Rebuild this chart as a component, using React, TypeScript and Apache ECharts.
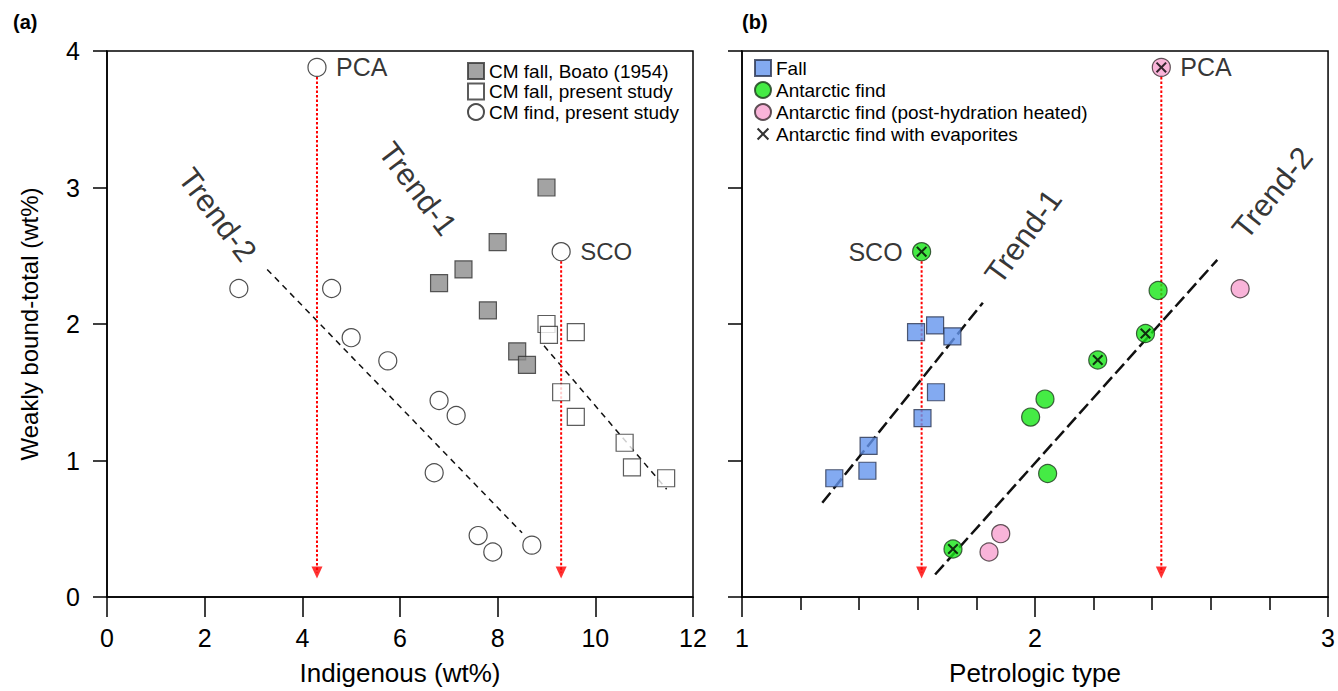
import React, { useEffect, useRef } from 'react';
import * as echarts from 'echarts';

// ---------- Panel (a) data: x = Indigenous (wt%), y = Weakly bound-total (wt%) ----------
const boatoFall = [[9.0, 3.0], [8.0, 2.6], [7.3, 2.4], [6.8, 2.3], [7.8, 2.1], [8.4, 1.8], [8.6, 1.7]];
const presentFall = [[9.0, 2.0], [9.05, 1.92], [9.6, 1.94], [9.3, 1.5], [9.6, 1.32], [10.6, 1.13], [10.75, 0.95], [11.45, 0.87]];
const presentFind = [[4.3, 3.88], [9.3, 2.53], [2.7, 2.26], [4.6, 2.26], [5.0, 1.9], [5.75, 1.73], [6.8, 1.44], [7.15, 1.33], [6.7, 0.91], [7.6, 0.45], [7.9, 0.33], [8.7, 0.38]];
const trendA1 = [[8.95, 1.84], [11.46, 0.79]];
const trendA2 = [[3.28, 2.4], [8.5, 0.47]];
const arrowsA = [[[4.3, 3.81], [4.3, 0.18]], [[9.3, 2.46], [9.3, 0.18]]];
const pointLabelsA = [
  { name: 'PCA', value: [4.3, 3.88], position: 'right', size: 25 },
  { name: 'SCO', value: [9.3, 2.53], position: 'right', size: 24 },
];
const trendLabelsA = [
  { name: 'Trend-1', value: [6.36, 2.99], rotate: -53 },
  { name: 'Trend-2', value: [2.26, 2.8], rotate: -53 },
];

// ---------- Panel (b) data: x = Petrologic type ----------
const fallB = [[1.594, 1.94], [1.659, 1.99], [1.718, 1.91], [1.662, 1.5], [1.616, 1.31], [1.432, 1.107], [1.428, 0.925], [1.315, 0.87]];
const antarcticB = [[1.613, 2.53], [2.42, 2.245], [2.377, 1.93], [2.214, 1.736], [2.034, 1.45], [1.985, 1.318], [2.043, 0.905], [1.72, 0.352]];
const heatedB = [[2.431, 3.88], [2.7, 2.258], [1.883, 0.464], [1.843, 0.33]];
const evaporitesB = [[1.613, 2.53], [2.377, 1.93], [2.214, 1.736], [1.72, 0.352], [2.431, 3.88]];
const trendB1 = [[1.274, 0.69], [1.822, 2.156]];
const trendB2 = [[1.659, 0.165], [2.622, 2.47]];
const arrowsB = [[[1.613, 2.46], [1.613, 0.18]], [[2.431, 3.81], [2.431, 0.18]]];
const pointLabelsB = [
  { name: 'SCO', value: [1.613, 2.53], position: 'left', size: 25 },
  { name: 'PCA', value: [2.431, 3.88], position: 'right', size: 25 },
];
const trendLabelsB = [
  { name: 'Trend-1', value: [1.96, 2.64], rotate: 54 },
  { name: 'Trend-2', value: [2.81, 2.96], rotate: 51 },
];

const legendA = ['CM fall, Boato (1954)', 'CM fall, present study', 'CM find, present study'];
const legendB = ['Fall', 'Antarctic find', 'Antarctic find (post-hydration heated)', 'Antarctic find with evaporites'];

const FONT = "'Liberation Sans', Arial, Helvetica, sans-serif";
const X_PATH = 'path://M0,1.3L1.3,0L5,3.7L8.7,0L10,1.3L6.3,5L10,8.7L8.7,10L5,6.3L1.3,10L0,8.7L3.7,5Z';
const X_LEGEND = 'path://M-1.5,-1.5M11.5,11.5M0,1.2L1.2,0L5,3.8L8.8,0L10,1.2L6.2,5L10,8.8L8.8,10L5,6.2L1.2,10L0,8.8L3.8,5Z';

function xAxisCfg(grid: number, min: number, max: number, interval: number, name: string, minor: boolean) {
  return {
    type: 'value', gridIndex: grid, min, max, interval,
    name, nameLocation: 'middle', nameGap: 63,
    nameTextStyle: { fontSize: 26, color: '#000', fontFamily: FONT },
    axisLine: { show: true, onZero: false, lineStyle: { color: '#000', width: 1.5 } },
    axisTick: { show: true, inside: false, length: 20, lineStyle: { color: '#000', width: 1.5 } },
    minorTick: { show: minor, splitNumber: 5, length: 13, lineStyle: { color: '#000', width: 1.5 } },
    axisLabel: { fontSize: 25, color: '#000', margin: 28, fontFamily: FONT },
    splitLine: { show: false },
  };
}

function yAxisCfg(grid: number, showLabel: boolean) {
  return {
    type: 'value', gridIndex: grid, min: 0, max: 4, interval: 1,
    name: showLabel ? 'Weakly bound-total (wt%)' : '', nameLocation: 'middle', nameGap: 66,
    nameTextStyle: { fontSize: 24, color: '#000', fontFamily: FONT },
    axisLine: { show: true, onZero: false, lineStyle: { color: '#000', width: 1.5 } },
    axisTick: { show: true, inside: false, length: 14, lineStyle: { color: '#000', width: 1.5 } },
    axisLabel: { show: showLabel, fontSize: 25, color: '#000', margin: 27, fontFamily: FONT },
    splitLine: { show: false },
  };
}

function lineSeg(data: number[][], gi: number, style: any) {
  return {
    type: 'line', xAxisIndex: gi, yAxisIndex: gi, data, symbol: 'none', silent: true,
    lineStyle: style, z: 1,
  };
}

function arrowHeads(arrows: number[][][], gi: number) {
  return {
    type: 'scatter', xAxisIndex: gi, yAxisIndex: gi, silent: true, z: 2,
    symbol: 'triangle', symbolRotate: 180, symbolSize: [11, 12],
    itemStyle: { color: '#ff0000' },
    data: arrows.map((a) => a[1]),
  };
}

function pointLabels(items: any[], gi: number) {
  return {
    type: 'scatter', xAxisIndex: gi, yAxisIndex: gi, silent: true, z: 6,
    symbolSize: 18, itemStyle: { color: 'rgba(0,0,0,0)' },
    data: items.map((p) => ({
      name: p.name, value: p.value,
      label: { position: p.position, fontSize: p.size },
    })),
    label: { show: true, formatter: '{b}', color: '#000', distance: 10, fontFamily: FONT },
  };
}

function trendLabels(items: any[], gi: number) {
  return {
    type: 'scatter', xAxisIndex: gi, yAxisIndex: gi, silent: true, z: 6,
    symbolSize: 1, itemStyle: { color: 'rgba(0,0,0,0)' },
    data: items.map((t) => ({ name: t.name, value: t.value, label: { rotate: t.rotate } })),
    label: { show: true, position: 'inside', formatter: '{b}', fontSize: 31, color: '#000', fontFamily: FONT },
  };
}

function buildOption() {
  const redStyle = { color: '#ff0000', width: 2, type: [2.5, 2] };
  const dashA = { color: '#111', width: 1.5, type: [6, 5] };
  const dashB = { color: '#111', width: 2.5, type: [13, 5] };
  const gridStyle = { show: true, borderColor: '#000', borderWidth: 1.5, backgroundColor: 'transparent' };
  return {
    animation: false,
    backgroundColor: '#fff',
    textStyle: { fontFamily: FONT },
    title: [
      { text: '(a)', left: 13, top: 12, padding: 0, textStyle: { fontSize: 20, fontWeight: 'bold', color: '#000', fontFamily: FONT } },
      { text: '(b)', left: 742, top: 12, padding: 0, textStyle: { fontSize: 20, fontWeight: 'bold', color: '#000', fontFamily: FONT } },
    ],
    grid: [
      { left: 107, top: 51, width: 586, height: 550, ...gridStyle },
      { left: 742, top: 51, width: 587, height: 550, ...gridStyle },
    ],
    xAxis: [
      xAxisCfg(0, 0, 12, 2, 'Indigenous (wt%)', false),
      xAxisCfg(1, 1, 3, 1, 'Petrologic type', true),
    ],
    yAxis: [yAxisCfg(0, true), yAxisCfg(1, false)],
    legend: [
      {
        data: [
          { name: legendA[0], icon: 'rect' },
          { name: legendA[1], icon: 'rect' },
          { name: legendA[2], icon: 'circle' },
        ],
        orient: 'vertical', left: 467, top: 61, padding: 0, itemGap: 0.5,
        itemWidth: 16, itemHeight: 16, selectedMode: false,
        textStyle: { fontSize: 19, lineHeight: 20, color: '#000', fontFamily: FONT },
      },
      {
        data: [
          { name: legendB[0], icon: 'rect' },
          { name: legendB[1], icon: 'circle' },
          { name: legendB[2], icon: 'circle' },
          { name: legendB[3], icon: X_LEGEND },
        ],
        orient: 'vertical', left: 754, top: 58, padding: 0, itemGap: 2,
        itemWidth: 16, itemHeight: 16, selectedMode: false,
        textStyle: { fontSize: 19, lineHeight: 20, color: '#000', fontFamily: FONT },
      },
    ],
    series: [
      // panel (a)
      lineSeg(trendA1, 0, dashA),
      lineSeg(trendA2, 0, dashA),
      ...arrowsA.map((a) => lineSeg(a, 0, redStyle)),
      arrowHeads(arrowsA, 0),
      {
        type: 'scatter', name: legendA[0], xAxisIndex: 0, yAxisIndex: 0, z: 3,
        symbol: 'rect', symbolSize: 17,
        itemStyle: { color: '#8c8c8c', borderColor: '#333', borderWidth: 1.2 },
        data: boatoFall,
      },
      {
        type: 'scatter', name: legendA[1], xAxisIndex: 0, yAxisIndex: 0, z: 3,
        symbol: 'rect', symbolSize: 17,
        itemStyle: { color: '#ffffff', borderColor: '#333', borderWidth: 1.2 },
        data: presentFall,
      },
      {
        type: 'scatter', name: legendA[2], xAxisIndex: 0, yAxisIndex: 0, z: 3,
        symbol: 'circle', symbolSize: 18,
        itemStyle: { color: '#ffffff', borderColor: '#222', borderWidth: 1.2 },
        data: presentFind,
      },
      pointLabels(pointLabelsA, 0),
      trendLabels(trendLabelsA, 0),

      // panel (b)
      lineSeg(trendB1, 1, dashB),
      lineSeg(trendB2, 1, dashB),
      ...arrowsB.map((a) => lineSeg(a, 1, redStyle)),
      arrowHeads(arrowsB, 1),
      {
        type: 'scatter', name: legendB[0], xAxisIndex: 1, yAxisIndex: 1, z: 3,
        symbol: 'rect', symbolSize: 17,
        itemStyle: { color: '#6495ed', borderColor: '#2a3550', borderWidth: 1.2 },
        data: fallB,
      },
      {
        type: 'scatter', name: legendB[1], xAxisIndex: 1, yAxisIndex: 1, z: 3,
        symbol: 'circle', symbolSize: 18,
        itemStyle: { color: '#16e616', borderColor: '#1a3a1a', borderWidth: 1.2 },
        data: antarcticB,
      },
      {
        type: 'scatter', name: legendB[2], xAxisIndex: 1, yAxisIndex: 1, z: 3,
        symbol: 'circle', symbolSize: 18,
        itemStyle: { color: '#f7a1cf', borderColor: '#3a2a30', borderWidth: 1.2 },
        data: heatedB,
      },
      {
        type: 'scatter', name: legendB[3], xAxisIndex: 1, yAxisIndex: 1, z: 4,
        symbol: X_PATH, symbolSize: 11,
        itemStyle: { color: '#000' },
        data: evaporitesB,
      },
      pointLabels(pointLabelsB, 1),
      trendLabels(trendLabelsB, 1),
    ],
  };
}

export default function App() {
  const ref = useRef<HTMLDivElement>(null);
  useEffect(() => {
    if (!ref.current) return;
    const chart = echarts.init(ref.current, null, { renderer: 'svg' });
    chart.setOption(buildOption() as any);
    return () => chart.dispose();
  }, []);
  return (
    <div
      ref={ref}
      style={{ position: 'fixed', left: 0, top: 0, width: 1338, height: 691, background: '#fff' }}
    />
  );
}
